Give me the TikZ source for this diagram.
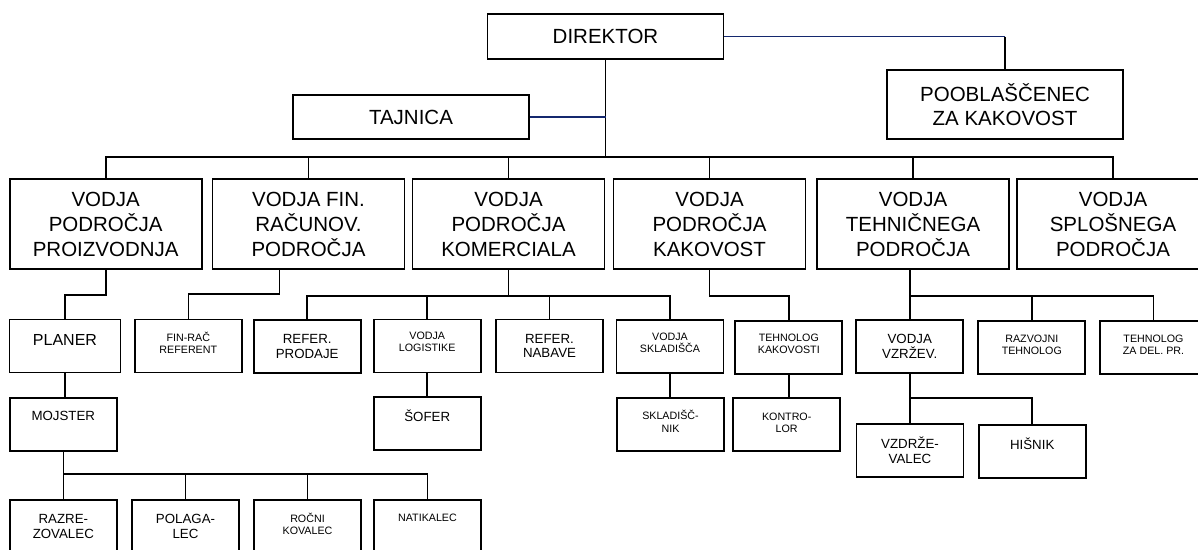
\documentclass[tikz,border=0pt]{standalone}
\usepackage{fontspec}
\setmainfont{Liberation Sans}
\usetikzlibrary{calc}
\definecolor{navy}{RGB}{20,40,110}

\begin{document}
\begin{tikzpicture}[
  x = 1pt, y = -1pt,
  every node/.style = {draw, line width=1.9pt, inner sep=0pt, align=center},
  boss/.style = {minimum width=236pt, font=\fontsize{20.5}{23.5}\selectfont},
  head/.style = {minimum width=192pt, minimum height=90pt, font=\fontsize{20.5}{25}\selectfont},
  staff/.style = {minimum width=107pt, minimum height=53pt},
  mid/.style = {font=\fontsize{13.3}{14.3}\selectfont},
  small/.style = {font=\fontsize{10.7}{11.7}\selectfont},
  lift/.style = {text depth=#1pt},
  link/.style = {line width=1.6pt},
  aide/.style = {line width=1.4pt, draw=navy}
  ]
  \useasboundingbox (0,0) rectangle (1198,549);

  % vodstvo
  \node[boss, minimum height=45pt] (dir) at (605.5,36.5) {DIREKTOR};
  \node[boss, minimum height=44pt] (tajnica) at (411,117) {TAJNICA};
  \node[boss, minimum height=69pt] (poobl) at (1005,104.5) {POOBLAŠČENEC\\ZA KAKOVOST};

  % vodje podrocij
  \node[head] (proizv) at (105.7,224) {VODJA\\PODROČJA\\PROIZVODNJA};
  \node[head] (finance) at (308.5,224) {VODJA FIN.\\RAČUNOV.\\PODROČJA};
  \node[head] (komerc) at (508.5,224) {VODJA\\PODROČJA\\KOMERCIALA};
  \node[head] (kakov) at (709.5,224) {VODJA\\PODROČJA\\KAKOVOST};
  \node[head] (tehnic) at (913,224) {VODJA\\TEHNIČNEGA\\PODROČJA};
  \node[head] (splos) at (1113,224) {VODJA\\SPLOŠNEGA\\PODROČJA};

  % drugi nivo
  \node[staff, minimum width=111pt, lift=12, font=\fontsize{16}{18}\selectfont] (planer) at (65,346) {PLANER};
  \node[staff, small, lift=6] (finrac) at (188.3,346) {FIN-RAČ\\REFERENT};
  \node[staff, mid] (prodaja) at (307.2,346.5) {REFER.\\PRODAJE};
  \node[staff, small, lift=8] (logist) at (427.2,346) {VODJA\\LOGISTIKE};
  \node[staff, mid] (nabava) at (549.5,346) {REFER.\\NABAVE};
  \node[staff, small, lift=7] (sklad) at (670,346.5) {VODJA\\SKLADIŠČA};
  \node[staff, small, lift=7] (tehkak) at (788.8,347.5) {TEHNOLOG\\KAKOVOSTI};
  \node[staff, mid] (vzrzev) at (909.7,346.5) {VODJA\\VZRŽEV.};
  \node[staff, small, lift=6] (razvoj) at (1031.8,347.5) {RAZVOJNI\\TEHNOLOG};
  \node[staff, small, lift=6] (tzdp) at (1153.5,347.5) {TEHNOLOG\\ZA DEL. PR.};

  % tretji nivo
  \node[staff, mid, lift=16] (mojster) at (63.3,424.3) {MOJSTER};
  \node[staff, mid, lift=15] (sofer) at (427.2,423.3) {ŠOFER};
  \node[staff, small, lift=6, font=\fontsize{10.7}{12.4}\selectfont] (skladnik) at (670.5,424.2) {SKLADIŠČ-\\NIK};
  \node[staff, small, lift=4, font=\fontsize{10.7}{12.4}\selectfont] (kontrolor) at (786.7,424.7) {KONTRO-\\LOR};
  \node[staff, mid] (vzdrz) at (910,450.3) {VZDRŽE-\\VALEC};
  \node[staff, mid, lift=15] (hisnik) at (1032.2,451.3) {HIŠNIK};

  % cetrti nivo
  \node[staff, mid] (razrez) at (63.3,526.5) {RAZRE-\\ZOVALEC};
  \node[staff, mid] (polag) at (185.5,526.5) {POLAGA-\\LEC};
  \node[staff, small, lift=6] (rocni) at (307.5,526.5) {ROČNI\\KOVALEC};
  \node[staff, small, lift=17] (natik) at (427.5,526.5) {NATIKALEC};

  % povezave
  \coordinate (hub) at ($(dir.south)+(0,97)$);
  \draw[link] (dir) -- (hub);
  \draw[link] (hub) -| (proizv.north);
  \draw[link] (hub) -| (finance.north);
  \draw[link] (hub) -| (komerc.north);
  \draw[link] (hub) -| (kakov.north);
  \draw[link] (hub) -| (tehnic.north);
  \draw[link] (hub) -| (splos.north);
  \draw[aide] (tajnica) -- (tajnica -| hub);
  \coordinate (qcorner) at (poobl.north |- dir.east);
  \draw[aide] (dir.east) -- (qcorner);
  \draw[link] (qcorner) -- (poobl.north);

  \draw[link] (proizv.south) -- ++(0,25) -| (planer.north);
  \draw[link] ([xshift=-29pt]finance.south) -- ++(0,24) -| (finrac.north);
  \draw[link] (komerc.south) -- ++(0,26) coordinate (kbus);
  \draw[link] (kbus) -| (prodaja.north);
  \draw[link] (kbus) -| (logist.north);
  \draw[link] (kbus) -| (nabava.north);
  \draw[link] (kbus) -| (sklad.north);
  \draw[link] (kakov.south) -- ++(0,26) -| (tehkak.north);
  \coordinate (tbus) at (vzrzev.north |- kbus);
  \draw[link] (vzrzev.north |- tehnic.south) -- (vzrzev.north);
  \draw[link] (tbus) -| (razvoj.north);
  \draw[link] (tbus) -| (tzdp.north);

  \draw[link] (planer.south) -- (planer.south |- mojster.north);
  \draw[link] (logist) -- (sofer);
  \draw[link] (sklad.south) -- (sklad.south |- skladnik.north);
  \draw[link] (tehkak.south) -- (tehkak.south |- kontrolor.north);
  \draw[link] (vzrzev.south) -- (vzrzev.south |- vzdrz.north);
  \draw[link] (vzrzev.south) ++(0,24) -| (hisnik.north);

  \draw[link] (mojster.south) -- ++(0,22) coordinate (mbus) -| (natik.north);
  \draw[link] (mbus) -- (razrez.north);
  \draw[link] (mbus) -| (polag.north);
  \draw[link] (mbus) -| (rocni.north);
\end{tikzpicture}
\end{document}
